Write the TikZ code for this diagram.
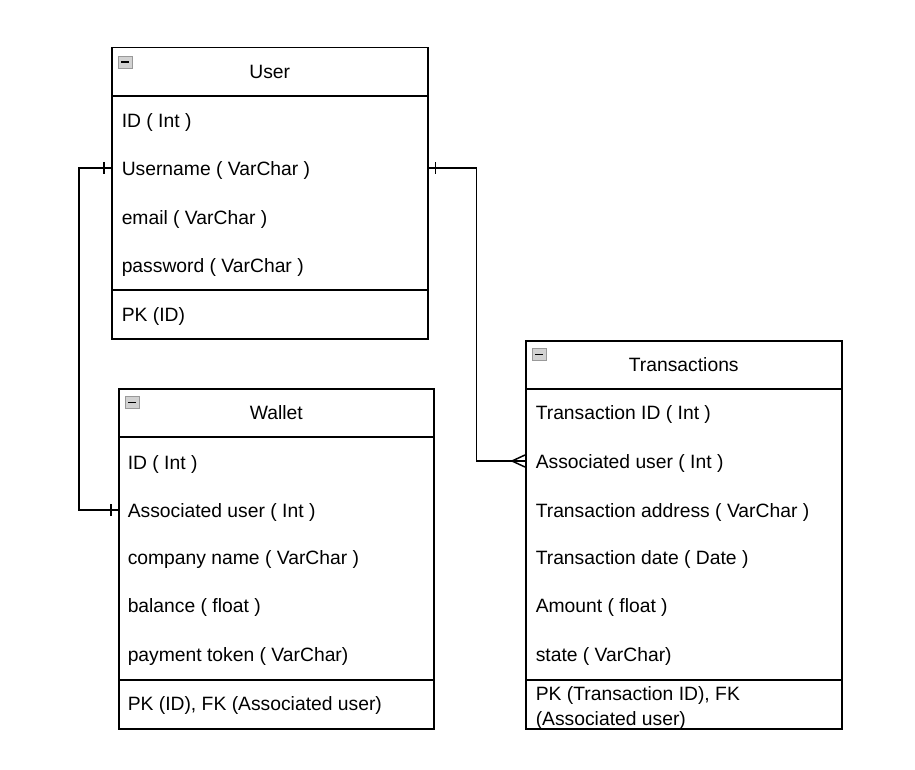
\documentclass[tikz,border=0pt]{standalone}
\usepackage{fontspec}
\setmainfont{Liberation Sans}
\usetikzlibrary{positioning, calc, decorations.markings}

\begin{document}
\begin{tikzpicture}[x=1pt, y=-1pt, line width=1.5pt,
every node/.style={font=\fontsize{19.3}{25}\selectfont},
entity/.style={draw, anchor=north west, inner sep=0pt},
field/.style={anchor=west, inner sep=0pt, text height=16pt, text depth=1pt},
keys/.style={anchor=west, inner sep=0pt, align=left, yshift=-2.5pt},
toggle/.style={draw=gray!80, fill=gray!35, line width=0.8pt, anchor=north west,
  minimum width=14pt, minimum height=12pt, inner sep=0pt,
  path picture={\draw[black, line width=1.8pt]
    ([xshift=3pt]path picture bounding box.west) -- ([xshift=-3pt]path picture bounding box.east);}},
one start/.style={postaction={decorate, decoration={markings,
  mark=at position 7pt with {\draw (0,-6pt) -- (0,6pt);}}}},
one end/.style={postaction={decorate, decoration={markings,
  mark=at position -7pt with {\draw (0,-6pt) -- (0,6pt);}}}},
many end/.style={postaction={decorate, decoration={markings,
  mark=at position -13pt with {\draw (13pt,-6pt) -- (0,0) -- (13pt,6pt);}}}}
]
\useasboundingbox (0,0) rectangle (915,770);

% User
\node[entity, minimum width=316pt, minimum height=291pt] (user) at (111,47) {};
\node[toggle] (user-toggle) at (118,56) {};
\node (user-title) at ($(user.north)+(0,25)$) {User};
\draw (user.north west) ++(0,49) -- ++(316,0);
\draw (user.north west) ++(0,243) -- ++(316,0);
\node[field] (user-id) at (121,120) {ID ( Int )};
\node[field] (user-name) at (121,168) {Username ( VarChar )};
\node[field] (user-mail) at (121,217) {email ( VarChar )};
\node[field] (user-pass) at (121,265) {password ( VarChar )};
\node[field] (user-pk) at (121,314) {PK (ID)};

% Wallet
\node[entity, minimum width=315pt, minimum height=340pt] (wallet) at (118,388) {};
\node[toggle] (wallet-toggle) at (125,396) {};
\node (wallet-title) at ($(wallet.north)+(0,25)$) {Wallet};
\draw (wallet.north west) ++(0,49) -- ++(315,0);
\draw (wallet.north west) ++(0,292) -- ++(315,0);
\node[field] (wallet-id) at (127,462) {ID ( Int )};
\node[field] (wallet-user) at (127,510) {Associated user ( Int )};
\node[field] (wallet-company) at (127,557) {company name ( VarChar )};
\node[field] (wallet-balance) at (127,605) {balance ( float )};
\node[field] (wallet-token) at (127,654) {payment token ( VarChar)};
\node[field] (wallet-pk) at (127,703) {PK (ID), FK (Associated user)};

% Transactions
\node[entity, minimum width=316pt, minimum height=388pt] (trans) at (525,340) {};
\node[toggle] (trans-toggle) at (532,348) {};
\node (trans-title) at ($(trans.north)+(0,25)$) {Transactions};
\draw (trans.north west) ++(0,49) -- ++(316,0);
\draw (trans.north west) ++(0,340) -- ++(316,0);
\node[field] (trans-id) at (535,412) {Transaction ID ( Int )};
\node[field] (trans-user) at (535,461) {Associated user ( Int )};
\node[field] (trans-address) at (535,510) {Transaction address ( VarChar )};
\node[field] (trans-date) at (535,557) {Transaction date ( Date )};
\node[field] (trans-amount) at (535,605) {Amount ( float )};
\node[field] (trans-state) at (535,654) {state ( VarChar)};
\node[keys] (trans-pk) at (535,705) {PK (Transaction ID), FK\\(Associated user)};

% relations
\draw[one start, one end] (user.west |- user-name) -- ++(-32,0) |- (wallet.west |- wallet-user);
\draw[one start, many end] (user.east |- user-name) -- ++(48,0) |- (trans.west |- trans-user);
\end{tikzpicture}
\end{document}
